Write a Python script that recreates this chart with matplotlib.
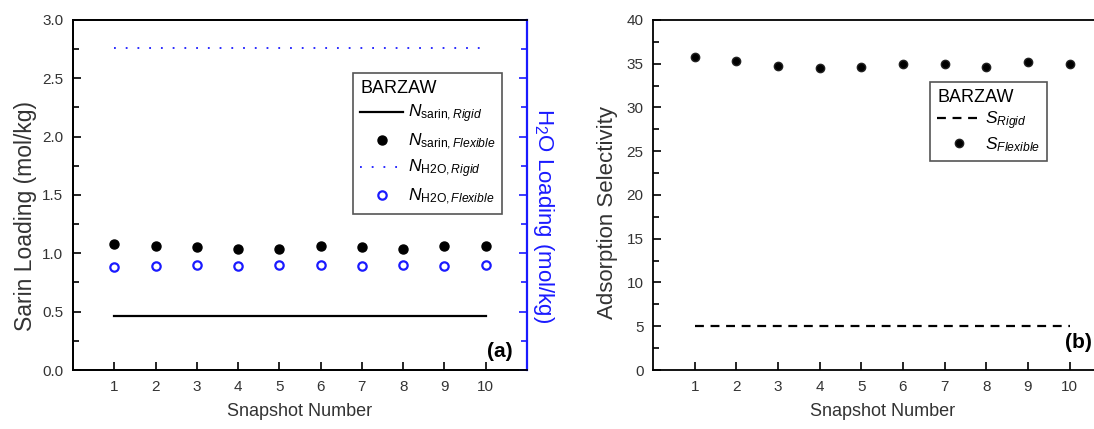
import matplotlib
matplotlib.use("Agg")
import matplotlib.pyplot as plt
from matplotlib.ticker import MultipleLocator

plt.rcParams.update({
    "font.family": ["Liberation Sans", "DejaVu Sans"],
    "mathtext.fontset": "custom",
    "mathtext.rm": "Liberation Sans",
    "mathtext.it": "Liberation Sans:italic",
    "mathtext.bf": "Liberation Sans:bold",
    "axes.linewidth": 1.3,
})

snapshots = [1, 2, 3, 4, 5, 6, 7, 8, 9, 10]
sarin_flexible = [1.08, 1.06, 1.05, 1.04, 1.04, 1.06, 1.05, 1.04, 1.06, 1.06]
h2o_flexible = [0.88, 0.89, 0.90, 0.89, 0.90, 0.90, 0.89, 0.90, 0.89, 0.90]
sarin_rigid = 0.46
h2o_rigid = 2.76
sel_flexible = [35.8, 35.3, 34.7, 34.5, 34.6, 35.0, 35.0, 34.6, 35.2, 35.0]
sel_rigid = 5.0

blue = "#1a1aff"
txt = "#333333"

fig = plt.figure(figsize=(10.94, 4.29), dpi=100)
ax = fig.add_axes([0.0667, 0.1375, 0.415, 0.816])
ax2 = ax.twinx()
axb = fig.add_axes([0.597, 0.1375, 0.4187, 0.816])

# (a) loadings
l1, = ax.plot([snapshots[0], snapshots[-1]], [sarin_rigid] * 2, color="black", lw=1.6,
              label=r"$N_{\mathrm{sarin,}\mathit{Rigid}}$")
l2, = ax.plot(snapshots, sarin_flexible, "o", color="black", ms=6.5, ls="none",
              label=r"$N_{\mathrm{sarin,}\mathit{Flexible}}$")
l3, = ax2.plot([snapshots[0], snapshots[-1]], [h2o_rigid] * 2, color=blue, lw=1.3,
               dashes=(1, 5.5), label=r"$N_{\mathrm{H2O,}\mathit{Rigid}}$")
l4, = ax2.plot(snapshots, h2o_flexible, "o", mfc="white", mec=blue, mew=1.6, ms=6,
               ls="none", label=r"$N_{\mathrm{H2O,}\mathit{Flexible}}$")

for a in (ax, ax2):
    a.set_xlim(0, 11)
    a.set_ylim(0, 3.0)
ax.set_xticks(snapshots)
ax.yaxis.set_major_locator(MultipleLocator(0.5))
ax.yaxis.set_minor_locator(MultipleLocator(0.25))
ax.tick_params(axis="both", which="both", direction="in", labelsize=11,
               labelcolor=txt, pad=7)
ax.tick_params(axis="both", which="major", length=6, width=1.2)
ax.tick_params(axis="y", which="minor", length=4, width=1.2)
ax.tick_params(axis="x", which="minor", bottom=False)
ax.yaxis.set_major_formatter(plt.FormatStrFormatter("%.1f"))

ax2.yaxis.set_major_locator(MultipleLocator(0.5))
ax2.yaxis.set_minor_locator(MultipleLocator(0.25))
ax2.tick_params(axis="y", which="both", direction="in", colors=blue, labelright=False,
                width=1.2)
ax2.tick_params(axis="y", which="major", length=6)
ax2.tick_params(axis="y", which="minor", length=4)
ax2.spines["right"].set_color(blue)
ax2.spines["right"].set_linewidth(1.6)
ax2.set_ylabel(r"H$_2$O Loading (mol/kg)", color=blue, fontsize=16, rotation=270,
               labelpad=21)
ax2.yaxis.label.set_y(0.44)

ax.set_xlabel("Snapshot Number", fontsize=13, color=txt, labelpad=7)
ax.set_ylabel("Sarin Loading (mol/kg)", fontsize=16.5, color=txt, labelpad=4)
ax.yaxis.label.set_y(0.44)
ax.text(0.969, 0.025, "(a)", transform=ax.transAxes, ha="right", va="bottom",
        fontsize=15, fontweight="bold")

leg = ax2.legend(handles=[l1, l2, l3, l4], title="BARZAW", loc="upper left",
                 bbox_to_anchor=(0.617, 0.849), borderaxespad=0, fontsize=12.5,
                 title_fontsize=13, alignment="left", fancybox=False,
                 edgecolor="#555555", framealpha=1, handlelength=2.5,
                 handletextpad=0.25, labelspacing=0.35, borderpad=0.4)
leg.get_frame().set_linewidth(1.2)

# (b) selectivity
d1, = axb.plot([snapshots[0], snapshots[-1]], [sel_rigid] * 2, color="black", lw=1.6,
               dashes=(4, 3), label=r"$S_{\mathit{Rigid}}$")
d2, = axb.plot(snapshots, sel_flexible, "o", color="black", mec="#222222", ms=6,
               ls="none", label=r"$S_{\mathit{Flexible}}$")
axb.set_xlim(0, 11)
axb.set_ylim(0, 40)
axb.set_xticks(snapshots)
axb.yaxis.set_major_locator(MultipleLocator(5))
axb.yaxis.set_minor_locator(MultipleLocator(2.5))
axb.tick_params(axis="both", which="both", direction="in", labelsize=11,
                labelcolor=txt, pad=7)
axb.tick_params(axis="both", which="major", length=6, width=1.2)
axb.tick_params(axis="y", which="minor", length=4, width=1.2)
axb.tick_params(axis="x", which="minor", bottom=False)
axb.set_xlabel("Snapshot Number", fontsize=13, color=txt, labelpad=7)
axb.set_ylabel("Adsorption Selectivity", fontsize=16, color=txt, labelpad=6)
axb.yaxis.label.set_y(0.45)
axb.text(0.958, 0.052, "(b)", transform=axb.transAxes, ha="right", va="bottom",
         fontsize=15, fontweight="bold")

legb = axb.legend(handles=[d1, d2], title="BARZAW", loc="upper left",
                  bbox_to_anchor=(0.605, 0.823), borderaxespad=0, fontsize=12.5,
                  title_fontsize=13, alignment="left", fancybox=False,
                  edgecolor="#555555", framealpha=1, handlelength=2.5,
                  handletextpad=0.25, labelspacing=0.2, borderpad=0.4)
legb.get_frame().set_linewidth(1.2)

fig.savefig("out.png", dpi=100)
